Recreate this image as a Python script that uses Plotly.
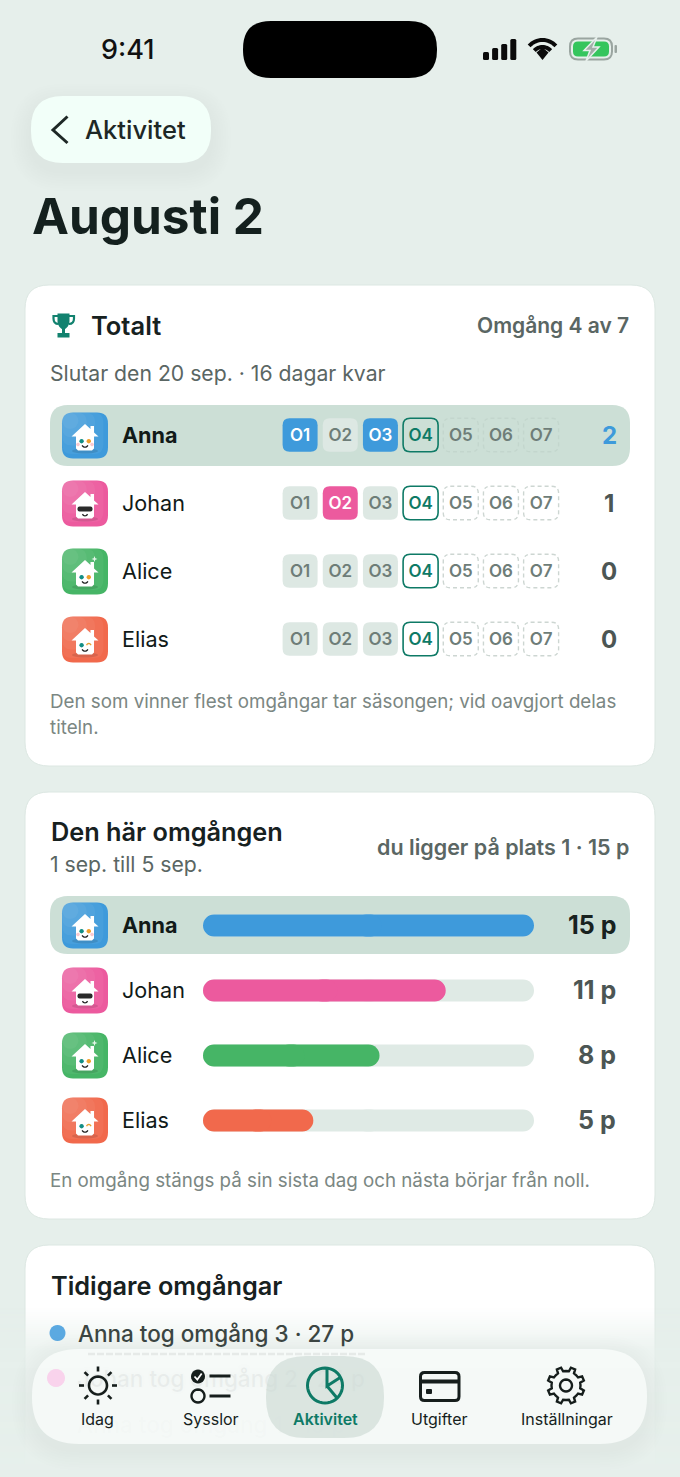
import math
import plotly.graph_objects as go

# data
players = ["Anna", "Johan", "Alice", "Elias"]
round_labels = ["O1", "O2", "O3", "O4", "O5", "O6", "O7"]
round_winners = ["Anna", "Johan", "Anna"]
current_round = 4
season_wins = [2, 1, 0, 0]
round_points = [15, 11, 8, 5]
past_rounds = ["Anna tog omgång 3 · 27 p", "Johan tog omgång 2 · 24 p", "Anna tog omgång 1 · 19 p"]
nav_labels = ["Idag", "Sysslor", "Aktivitet", "Utgifter", "Inställningar"]

BG = "#E6EFEB"
INK = "#17211F"
TEAL = "#0E7A66"
GREY = "#5A6663"
FOOT = "#7B8783"
HILITE = "#CCDFD6"
TILE = "#DDE8E3"
TILE_TXT = "#6E7D78"
colors = {"Anna": "#3E9ADB", "Johan": "#EC5A9E", "Alice": "#46B566", "Elias": "#F1694C"}
FONT = "Inter"

shapes = []
notes = []


def rr(x0, y0, x1, y1, rx, ry=None):
    ry = rx if ry is None else ry
    return (f"M{x0+rx},{y0} L{x1-rx},{y0} Q{x1},{y0} {x1},{y0+ry} L{x1},{y1-ry} Q{x1},{y1} {x1-rx},{y1} "
            f"L{x0+rx},{y1} Q{x0},{y1} {x0},{y1-ry} L{x0},{y0+ry} Q{x0},{y0} {x0+rx},{y0} Z")


def poly(pts, close=False):
    s = "M" + " L".join(f"{x:.2f},{y:.2f}" for x, y in pts)
    return s + (" Z" if close else "")


def arc(cx, cy, r, a0, a1, n=24, ry=None):
    ry = r if ry is None else ry
    pts = []
    for i in range(n + 1):
        a = math.radians(a0 + (a1 - a0) * i / n)
        pts.append((cx + r * math.cos(a), cy + ry * math.sin(a)))
    return pts


def add(path, fill=None, line=None, width=0, layer="below", dash=None, x="x", y="y"):
    shapes.append(dict(type="path", path=path, xref=x, yref=y, layer=layer,
                       fillcolor=fill or "rgba(0,0,0,0)",
                       line=dict(color=line or "rgba(0,0,0,0)", width=width, dash=dash or "solid")))


def label(x, y, text, size, color=INK, weight=400, anchor="left"):
    # annotations carry about a pixel of padding
    x = x - 1 if anchor == "left" else x + 1 if anchor == "right" else x
    notes.append(dict(x=x, y=y - 0.2, xref="x", yref="y", text=text, showarrow=False, xanchor=anchor, yanchor="middle",
                      borderpad=0, font=dict(family=FONT, size=size, color=color, weight=weight)))


def soft_shadow(x0, y0, x1, y1, r, dy=8, steps=8, alpha=0.006, spread=2.5, layer="below"):
    for i in range(steps, 0, -1):
        g = i * spread
        add(rr(x0 - g, y0 - g + dy, x1 + g, y1 + g + dy, r + g), fill=f"rgba(70,100,90,{alpha})", layer=layer)


def avatar(name, cy):
    x0, y0 = 62, cy - 23
    cx = x0 + 23
    col = colors[name]
    add(rr(x0, y0, x0 + 46, y0 + 46, 11), fill=col)
    for f in (0.9, 0.72, 0.54, 0.36):
        add(rr(x0, y0, x0 + 46 * f, y0 + 46 * f, 10), fill="rgba(255,255,255,0.05)")
    # ground shadow
    add(poly(arc(cx, y0 + 38.5, 13, 0, 360, 24, ry=2.5), True), fill="rgba(0,0,0,0.10)")
    # house
    add(poly([(cx - 13.5, y0 + 24), (cx, y0 + 11.5), (cx + 5.5, y0 + 16.5), (cx + 5.5, y0 + 13.5), (cx + 9, y0 + 13.5),
              (cx + 9, y0 + 20), (cx + 13.5, y0 + 24), (cx + 9, y0 + 24), (cx + 9, y0 + 36), (cx + 7, y0 + 38),
              (cx - 7, y0 + 38), (cx - 9, y0 + 36), (cx - 9, y0 + 24)], True), fill="white")
    smile = arc(cx, y0 + 31.5, 3.2, 25, 155, 8)
    if name == "Johan":
        add(rr(cx - 7.5, y0 + 26, cx + 7.5, y0 + 31, 2), fill="#2A2A2A")
        smile = arc(cx, y0 + 32.5, 2.8, 25, 155, 8)
    else:
        add(poly(arc(cx - 3.4, y0 + 28.7, 2.2, 0, 360, 12), True), fill="#128E84")
        if name == "Elias":
            add(poly(arc(cx + 3.8, y0 + 29.2, 2.2, 190, 350, 8)), line="#E8A030", width=1.3)
        else:
            add(poly(arc(cx + 3.8, y0 + 28.7, 2.2, 0, 360, 12), True), fill="#EFA02C")
    add(poly(smile), line="#222", width=1.3)
    if name == "Anna":
        add(poly(arc(cx - 7, y0 + 32, 1.8, 0, 360, 10), True), fill="#F9C8CE")
        add(poly(arc(cx + 7, y0 + 32, 1.8, 0, 360, 10), True), fill="#F9C8CE")
    if name == "Alice":
        sx, sy = cx + 9.5, y0 + 10.5
        add(poly([(sx, sy - 3), (sx + .8, sy - .8), (sx + 3, sy), (sx + .8, sy + .8), (sx, sy + 3),
                  (sx - .8, sy + .8), (sx - 3, sy), (sx - .8, sy - .8)], True), fill="#E6F6EA")


# ---- page chrome ----
add(rr(25, 285, 655, 766, 24), fill="white", line="#DCE7E2", width=1)
add(rr(25, 792, 655, 1219, 24), fill="white", line="#DCE7E2", width=1)
add(rr(25, 1245, 655, 1500, 24), fill="white", line="#DCE7E2", width=1)

# status bar
add(rr(243, 21, 437, 78, 28), fill="black")
label(127.5, 49.5, "9:41", 27, "#111", 500, "center")
for i, h in enumerate([8, 12, 16, 21]):
    add(rr(483 + i * 9.1, 60 - h, 489 + i * 9.1, 60, 1.5), fill="#0A0A0A")
for r, w in ((18, 4), (11, 4)):
    add(poly(arc(542.5, 58, r, 222, 318, 16)), line="#0A0A0A", width=w)
add(poly([(536.5, 52.5), (542.5, 47.5), (548.5, 52.5), (542.5, 60)], True), fill="#0A0A0A")
add(rr(570, 38.5, 612, 59.5, 8), line="#9AA5A0", width=2)
add(rr(573, 41.5, 609, 56.5, 5), fill="#35C55D")
add(rr(614.5, 45, 617, 53, 1), fill="#9AA5A0")
add(poly([(597, 37), (584, 50.5), (590, 50.5), (586, 61), (599, 47), (593, 47)], True), fill="#A3ADA9", line="#E6EFEB", width=1.5)

# back button
soft_shadow(31, 96, 211, 163, 32)
add(rr(31, 96, 211, 163, 32), fill="#F2FFF9")
add(poly([(67.5, 116.5), (53, 130), (67.5, 143)]), line="#1E2826", width=3)
label(85, 130, "Aktivitet", 25.5, "#1E2826", 500)
label(32, 216, "Augusti 2", 49.5, "#14201E", 700)

# ---- card 1: season ----
TROPHY = "#12826F"
add("M57.5,313.5 H69.5 V321 C69.5,326 66,328.5 65,329 V333 H69.5 V337.5 H57.5 V333 H62 V329 "
    "C61,328.5 57.5,326 57.5,321 Z", fill=TROPHY)
add("M58,316 H53.5 V318.5 C53.5,322 55.5,324 58.5,324", line=TROPHY, width=2.2)
add("M69,316 H74 V318.5 C74,322 72,324 69,324", line=TROPHY, width=2.2)
label(91, 325.5, "Totalt", 25.5, INK, 600)
label(629, 326, "Omgång 4 av 7", 21, GREY, 600, "right")
label(50, 373, "Slutar den 20 sep. · 16 dagar kvar", 21.2, GREY, 400)
add(rr(50, 405, 630, 466, 18), fill=HILITE)
label(50, 702, "Den som vinner flest omgångar tar säsongen; vid oavgjort delas", 18.75, FOOT)
label(50, 728, "titeln.", 18.75, FOOT)

for r, name in enumerate(players):
    cy = 435.5 + 68 * r
    avatar(name, cy)
    label(122, cy, name, 21.6, "#111A18", 700 if name == "Anna" else 400)
    label(609, cy, str(season_wins[r]), 24, colors["Anna"] if r == 0 else "#4C5654", 700, "center")

# round tiles live on their own axes: one unit is a round / a player row
hw, hh = 17.5 / 40.17, 16.8 / 68
rx, ry = 7 / 40.17, 7 / 68
tile_x, tile_y, tile_txt, tile_col = [], [], [], []
for r, name in enumerate(players):
    for i, lab in enumerate(round_labels):
        n = i + 1
        box = rr(n - hw, r - hh, n + hw, r + hh, rx, ry)
        col = TILE_TXT
        if n <= len(round_winners) and round_winners[i] == name:
            add(box, fill=colors[name], x="x3", y="y3")
            col = "white"
        elif n < current_round:
            add(box, fill=TILE, x="x3", y="y3")
        elif n == current_round:
            add(box, line=TEAL, width=1.6, x="x3", y="y3")
            col = TEAL
        else:
            add(box, line="#C3D6CD" if r == 0 else "#CDD6D2", width=1.4, dash="4px,3px", x="x3", y="y3")
        tile_x.append(n)
        tile_y.append(r + 0.02)
        tile_txt.append(lab)
        tile_col.append(col)

# ---- card 2: this round ----
label(51, 832, "Den här omgången", 25.3, INK, 600)
label(50, 864.5, "1 sep. till 5 sep.", 21.2, GREY)
label(629, 847, "du ligger på plats 1 · 15 p", 21.5, GREY, 600, "right")
add(rr(50, 896, 630, 954, 18), fill=HILITE)
label(50, 1181, "En omgång stängs på sin sista dag och nästa börjar från noll.", 18.75, FOOT)
for r, name in enumerate(players):
    cy = 925.5 + 65 * r
    avatar(name, cy)
    label(122, cy, name, 21.6, "#111A18", 700 if name == "Anna" else 400)
    label(616, cy, f"{round_points[r]} p", 25, "#18221F" if r == 0 else "#4C5654", 700, "right")

# ---- card 3: previous rounds ----
label(51, 1286, "Tidigare omgångar", 25.3, INK, 600)
label(78, 1334, past_rounds[0], 22.5, "#3B4542", 500)

# fade of the page towards the nav bar, under the traces so the ghost rows stay on top of it
for y in range(1306, 1350, 2):
    a = (y - 1306) / 44 * 0.75
    shapes.append(dict(type="rect", x0=0, x1=680, y0=y, y1=y + 2, xref="x", yref="y", layer="below",
                       fillcolor=BG, opacity=a, line=dict(width=0)))
for y in range(1350, 1477, 6):
    a = 0.75 + (y - 1350) / 127 * 0.25
    shapes.append(dict(type="rect", x0=0, x1=680, y0=y, y1=y + 6, xref="x", yref="y", layer="below",
                       fillcolor=BG, opacity=a, line=dict(width=0)))
add(poly(arc(57.5, 1333, 8, 0, 360, 24), True), fill="#5BA9E1")

# ---- traces ----
fig = go.Figure()

# rows behind the glass nav bar
for row, y, alpha, blur in ((1, 1381, 0.22, 0.5), (2, 1427, 0.05, 0.14)):
    fig.add_trace(go.Scatter(x=[77], y=[y], mode="text", text=[past_rounds[row]], textposition="middle right",
                             textfont=dict(family=FONT, size=22.5, color=f"rgba(50,60,58,{alpha})", weight=500,
                                           shadow=f"0 0 5px rgba(50,60,58,{blur})"),
                             hoverinfo="skip", showlegend=False, xaxis="x", yaxis="y"))

# bars are two halves overlapping in the middle so both ends get the rounded corners
for vals, cols in (([max(round_points)] * 4, ["#DFEAE5"] * 4), (round_points, [colors[p] for p in players])):
    for sign in (1, -1):
        fig.add_trace(go.Bar(y=players, x=[sign * (v * 0.5 + 0.6) for v in vals], base=[v * 0.5 - sign * 0.6 for v in vals],
                             orientation="h", width=0.34, marker_color=cols, marker_line_width=0, marker_cornerradius=11,
                             hoverinfo="skip", showlegend=False, xaxis="x2", yaxis="y2"))

fig.add_trace(go.Scatter(x=tile_x, y=tile_y, mode="text", text=tile_txt, textposition="middle center",
                         textfont=dict(family=FONT, size=17, color=tile_col, weight=600),
                         hoverinfo="skip", showlegend=False, xaxis="x3", yaxis="y3"))

# ---- nav bar ----
soft_shadow(32, 1349, 647, 1444, 47, dy=6, layer="above")
add(rr(32, 1349, 647, 1444, 47), fill="rgba(252,255,254,0.72)", layer="above")
add(poly(arc(56, 1378, 9, 0, 360, 24), True), fill="rgba(250,190,230,0.65)", layer="above")
add(poly([(88, 1354), (365, 1354)]), line="rgba(90,100,98,0.10)", width=2.5, dash="7px,2px", layer="above")
add(rr(266, 1356, 384, 1438, 40), fill="rgba(205,218,212,0.65)", layer="above")

ICON = "#161E1C"
# sun
add(poly(arc(98, 1385.5, 9, 0, 360, 32), True), line=ICON, width=2.6, layer="above")
for k in range(8):
    a = math.radians(45 * k)
    add(poly([(98 + 14 * math.cos(a), 1385.5 + 14 * math.sin(a)), (98 + 19 * math.cos(a), 1385.5 + 19 * math.sin(a))]),
        line=ICON, width=2.6, layer="above")
# checklist
add(poly(arc(198, 1376.5, 7, 0, 360, 24), True), fill=ICON, layer="above")
add(poly([(194.5, 1376.5), (197.3, 1379.5), (201.7, 1373.5)]), line="white", width=1.8, layer="above")
add(poly([(209.5, 1376), (230.5, 1376)]), line=ICON, width=3, layer="above")
add(poly(arc(198, 1396, 6.5, 0, 360, 24), True), line=ICON, width=2.4, layer="above")
add(poly([(209.5, 1396), (230.5, 1396)]), line=ICON, width=3, layer="above")
# pie
add(poly(arc(325, 1385.5, 17.5, 0, 360, 40), True), line=TEAL, width=3, layer="above")
add(poly([(327, 1368), (327, 1386), (341, 1377)]), line=TEAL, width=3, layer="above")
add(poly([(327, 1386), (337, 1398)]), line=TEAL, width=3, layer="above")
# card
add(rr(420.5, 1372.5, 459, 1400.5, 4), line=ICON, width=3, layer="above")
add(poly([(420.5, 1381.5), (459, 1381.5)]), line=ICON, width=4, layer="above")
add(rr(426, 1389, 432, 1394, 1), fill=ICON, layer="above")
# gear
gear = []
for k in range(8):
    a = 22.5 + 45 * k
    for off, rad in ((-22.5, 14.5), (-11, 14.5), (-7, 18.5), (7, 18.5), (11, 14.5)):
        t = math.radians(a + off)
        gear.append((566 + rad * math.cos(t), 1385.5 + rad * math.sin(t)))
add(poly(gear, True), line=ICON, width=2.4, layer="above")
add(poly(arc(566, 1385.5, 6, 0, 360, 24), True), line=ICON, width=2.4, layer="above")

for cx, t in zip([97, 211, 325.5, 439, 567], nav_labels):
    active = t == "Aktivitet"
    label(cx, 1419, t, 16, TEAL if active else ICON, 600 if active else 400, "center")

px_x = lambda a, b: [a / 680, b / 680]
px_y = lambda a, b: [1 - b / 1477, 1 - a / 1477]
hidden = dict(visible=False, fixedrange=True)

fig.update_layout(
    width=680, height=1477, margin=dict(l=0, r=0, t=0, b=0), autosize=False,
    paper_bgcolor=BG, plot_bgcolor="rgba(0,0,0,0)", showlegend=False, barmode="overlay",
    font=dict(family=FONT),
    xaxis=dict(domain=[0, 1], range=[0, 680], **hidden),
    yaxis=dict(domain=[0, 1], range=[1477, 0], **hidden),
    xaxis2=dict(domain=px_x(203, 534), range=[0, max(round_points)], anchor="y2", **hidden),
    yaxis2=dict(domain=px_y(893, 1153), autorange="reversed", type="category", categoryorder="array",
                categoryarray=players, anchor="x2", **hidden),
    xaxis3=dict(domain=px_x(280, 561.2), range=[0.5, 7.5], anchor="y3", **hidden),
    yaxis3=dict(domain=px_y(401, 673), range=[3.5, -0.5], anchor="x3", **hidden),
    shapes=shapes, annotations=notes,
)

fig.write_html("out.html", config={"displayModeBar": False, "staticPlot": True},
               post_script="document.body.style.margin='0';document.body.style.overflow='hidden';")
